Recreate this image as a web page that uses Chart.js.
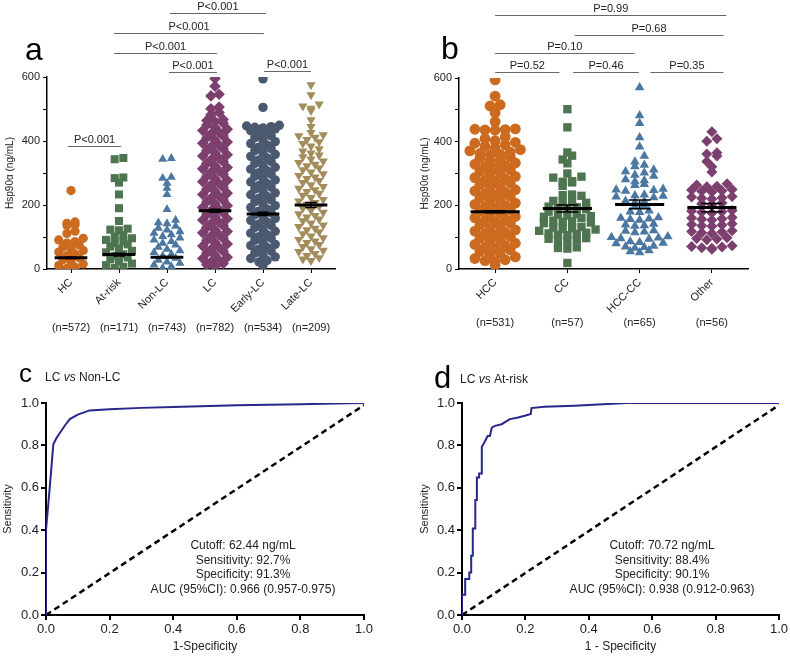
<!DOCTYPE html>
<html>
<head>
<meta charset="utf-8">
<script src="https://cdn.jsdelivr.net/npm/chart.js@4/dist/chart.umd.min.js"></script>
<style>
  body { margin: 0; background: #fff; width: 790px; height: 656px; position: relative; overflow: hidden; }
  canvas { position: absolute; }
</style>
</head>
<body>
<canvas id="pa" width="395" height="340" style="left:0;top:0"></canvas>
<canvas id="pb" width="390" height="340" style="left:400px;top:0"></canvas>
<canvas id="pc" width="395" height="316" style="left:0;top:340px"></canvas>
<canvas id="pd" width="390" height="316" style="left:400px;top:340px"></canvas>
<script>
// ---- panel a: Hsp90a by group (ng/mL) ----
const groupsA = ['HC', 'At-risk', 'Non-LC', 'LC', 'Early-LC', 'Late-LC'];
const countsA = [572, 171, 743, 782, 534, 209];
const hc = [2, 6, 11, 16, 23, 29, 35, 42, 47, 53, 58, 63, 69, 75, 81, 86, 91, 96, 111, 118, 136, 138, 143, 147, 245];
const atRisk = [3, 7, 12, 17, 24, 30, 36, 41, 46, 52, 57, 63, 70, 77, 81, 86, 91, 96, 101, 106, 121, 123, 126, 150, 190, 233, 270, 284, 286, 343, 347];
const nonLC = [3, 8, 13, 18, 22, 28, 34, 41, 46, 52, 57, 62, 68, 75, 81, 86, 91, 97, 102, 107, 112, 117, 122, 128, 134,
  142, 145, 153, 186, 233, 253, 268, 284, 287, 343, 346];
const lc = [8, 13, 17, 22, 27, 33, 37, 43, 50, 56, 61, 67, 72, 78, 83, 90, 96, 102, 107, 113, 117, 123, 130, 136,
  142, 147, 153, 157, 163, 170, 176, 182, 186, 192, 198, 203, 210, 216, 221, 227, 233, 237, 243, 250, 256,
  262, 267, 273, 277, 283, 290, 296, 302, 307, 313, 317, 323, 330, 336, 341, 347, 353, 357, 363, 370, 376,
  382, 387, 393, 397, 403, 410, 416, 422, 427, 433, 437, 443, 450, 456, 461, 464, 467, 482, 489, 501, 506, 541, 546, 571, 595];
const earlyLC = [12, 22, 27, 33, 38, 43, 50, 56, 62, 67, 73, 77, 83, 90, 96, 101, 107, 112, 118, 123, 130, 136,
  141, 147, 152, 158, 163, 170, 176, 181, 187, 192, 198, 203, 210, 216, 221, 227, 232, 238, 243, 250, 256,
  261, 267, 272, 278, 283, 290, 296, 301, 307, 312, 318, 323, 330, 336, 341, 347, 352, 358, 363, 370, 376,
  381, 387, 392, 398, 403, 410, 416, 421, 427, 432, 438, 441, 443, 445, 447, 449, 505, 594];
const lateLC = [26, 31, 35, 42, 48, 54, 58, 63, 70, 76, 82, 87, 92, 97, 103, 110, 116, 122, 127, 132, 137, 143, 150, 156,
  162, 167, 172, 177, 183, 190, 196, 202, 207, 212, 217, 223, 230, 236, 242, 247, 252, 257, 263, 270, 276,
  282, 287, 292, 297, 303, 310, 316, 322, 327, 332, 337, 343, 350, 356, 362, 368, 375, 384, 392, 397,
  404, 411, 416, 419, 426, 445, 466, 495, 502, 509, 515, 544, 575];
const meansA = [35, 45, 37, 182, 172, 200];
const semA = [2, 4, 2, 5, 5, 8];

// ---- panel b: by tumour type ----
const groupsB = ['HCC', 'CC', 'HCC-CC', 'Other'];
const countsB = [531, 57, 65, 56];
const hcc = [12, 23, 26, 29, 33, 38, 45, 50, 55, 60, 65, 69, 73, 77, 81, 87, 92, 97, 102, 107, 111, 115, 119, 123,
  129, 134, 139, 144, 149, 153, 157, 161, 165, 171, 176, 181, 186, 191, 195, 199, 203, 207, 213, 218, 223, 228,
  233, 237, 241, 245, 249, 255, 260, 265, 270, 275, 279, 283, 287, 291, 297, 302, 307, 312, 317, 321, 325, 329, 333,
  338, 343, 348, 353, 358, 360, 363, 367, 371, 375, 380, 385, 390, 395, 398, 403, 410, 415,
  436, 437, 438, 439, 440, 463, 491, 512, 516, 543, 594];
const cc = [502, 445, 366, 356, 344, 332, 300, 290, 287, 276, 274, 272, 261, 234, 232, 230, 214, 212, 210, 208,
  196, 194, 192, 190, 188, 180, 172, 170, 168, 166, 164, 160, 152, 150, 148, 146, 144, 132, 130, 128, 126, 124,
  120, 114, 112, 110, 108, 106, 97, 95, 93, 91, 89, 68, 66, 64, 19];
const hccCC = [570, 482, 458, 413, 384, 355, 337, 327, 322, 312, 306, 302, 295, 292, 281, 278, 275, 266, 263, 251,
  249, 247, 245, 233, 231, 229, 227, 225, 214, 212, 210, 198, 196, 183, 180, 178, 162, 160, 158, 156,
  154, 141, 139, 137, 135, 121, 119, 117, 115, 102, 100, 98, 96, 94, 86, 84, 82, 80, 72, 70, 68, 66, 58, 55, 52];
const other = [431, 409, 401, 365, 361, 355, 338, 321, 305, 268, 264, 260, 258, 250, 248, 246, 244, 242, 228, 226,
  224, 222, 220, 207, 205, 203, 184, 182, 180, 178, 176, 162, 160, 158, 156, 154, 142, 140, 138, 136, 134,
  120, 118, 116, 114, 112, 98, 96, 94, 92, 73, 71, 69, 67, 65, 62];
const meansB = [180, 190, 203, 193];
const semB = [3, 11, 14, 13];

// ---- ROC curves (1-specificity, sensitivity) ----
const rocCx = [0, 0, 0.007, 0.0125, 0.023, 0.033, 0.044, 0.06, 0.075, 0.1, 0.137, 0.2, 0.3, 0.4, 0.6, 0.8, 0.95, 1];
const rocCy = [0, 0.4, 0.52, 0.614, 0.805, 0.835, 0.86, 0.895, 0.924, 0.945, 0.965, 0.97, 0.977, 0.981, 0.989, 0.994, 0.999, 1];
const rocDx = [0, 0, 0.01, 0.01, 0.023, 0.023, 0.029, 0.029, 0.034, 0.034, 0.042, 0.042, 0.047, 0.047, 0.054, 0.054, 0.0625, 0.0625,
  0.07, 0.081, 0.088, 0.094, 0.104, 0.125, 0.151, 0.177, 0.198, 0.217, 0.219, 0.26, 0.354, 0.52, 1];
const rocDy = [0, 0.095, 0.095, 0.17, 0.17, 0.2, 0.2, 0.28, 0.28, 0.408, 0.408, 0.543, 0.543, 0.648, 0.648, 0.667, 0.667, 0.794,
  0.813, 0.844, 0.844, 0.884, 0.892, 0.9, 0.924, 0.932, 0.94, 0.948, 0.976, 0.982, 0.987, 1, 1];
const statsC = ['Cutoff: 62.44 ng/mL', 'Sensitivity: 92.7%', 'Specificity: 91.3%', 'AUC (95%CI): 0.966 (0.957-0.975)'];
const statsD = ['Cutoff: 70.72 ng/mL', 'Sensitivity: 88.4%', 'Specificity: 90.1%', 'AUC (95%CI): 0.938 (0.912-0.963)'];

const FONT = '"Liberation Sans", Arial, sans-serif';
Chart.defaults.font.family = FONT;
Chart.defaults.color = '#222';

// scatter-dot layout: bin the values, spread each bin sideways from the centre out
function swarm(vals, idx, bin, dx) {
  const bins = {};
  vals.forEach(v => { const k = Math.floor(v / bin); (bins[k] = bins[k] || []).push(v); });
  const pts = [];
  Object.values(bins).forEach(g => {
    g.sort((a, b) => a - b);
    const n = g.length;
    const offs = g.map((_, j) => j - (n - 1) / 2);
    offs.sort((a, b) => Math.abs(a) - Math.abs(b) || a - b);
    g.forEach((v, j) => pts.push({ x: idx + offs[j] * dx, y: v }));
  });
  return pts;
}

function dotAnnot(cfg) {
  return {
    id: 'dotAnnot',
    afterDatasetsDraw(chart) {
      const { ctx, scales: { x, y } } = chart;
      ctx.save();
      ctx.strokeStyle = '#000';
      cfg.means.forEach((m, i) => {
        const ym = y.getPixelForValue(m);
        ctx.lineWidth = 3;
        ctx.beginPath();
        ctx.moveTo(x.getPixelForValue(i - cfg.halfW), ym);
        ctx.lineTo(x.getPixelForValue(i + cfg.halfW), ym);
        ctx.stroke();
        const y1 = y.getPixelForValue(m + cfg.sem[i]), y2 = y.getPixelForValue(m - cfg.sem[i]);
        const xc = x.getPixelForValue(i), xl = x.getPixelForValue(i - cfg.capW), xr = x.getPixelForValue(i + cfg.capW);
        ctx.lineWidth = 1.5;
        ctx.beginPath();
        ctx.moveTo(xc, y1); ctx.lineTo(xc, y2);
        ctx.moveTo(xl, y1); ctx.lineTo(xr, y1);
        ctx.moveTo(xl, y2); ctx.lineTo(xr, y2);
        ctx.stroke();
      });
      ctx.restore();
    },
    afterDraw(chart) {
      const { ctx, scales: { x } } = chart;
      ctx.save();
      // significance brackets
      ctx.font = '11px ' + FONT;
      ctx.textAlign = 'center';
      ctx.textBaseline = 'alphabetic';
      cfg.brackets.forEach(([a, b, ly, txt]) => {
        const x1 = x.getPixelForValue(a), x2 = x.getPixelForValue(b);
        ctx.strokeStyle = '#666';
        ctx.lineWidth = 1;
        ctx.beginPath(); ctx.moveTo(x1, ly + 0.5); ctx.lineTo(x2, ly + 0.5); ctx.stroke();
        ctx.fillStyle = '#222';
        ctx.fillText(txt, (x1 + x2) / 2, ly - 3);
      });
      // group sizes
      ctx.textBaseline = 'middle';
      cfg.counts.forEach((n, i) => ctx.fillText('(n=' + n + ')', x.getPixelForValue(i), cfg.nY));
      // panel letter
      ctx.font = '32px ' + FONT;
      ctx.textAlign = 'left';
      ctx.textBaseline = 'alphabetic';
      ctx.fillStyle = '#000';
      ctx.fillText(cfg.letter, cfg.lx, cfg.ly);
      ctx.restore();
    }
  };
}

function dotChart(id, groups, series, colors, shapes, radii, dx, bin, yW, titlePad, padding, annot) {
  return new Chart(document.getElementById(id), {
    type: 'scatter',
    data: {
      datasets: series.map((vals, i) => ({
        data: swarm(vals, i, bin, dx[i]),
        pointStyle: shapes[i] === 'triangleDown' ? 'triangle' : shapes[i],
        pointRotation: shapes[i] === 'triangleDown' ? 180 : 0,
        pointRadius: radii[i],
        pointBackgroundColor: colors[i],
        pointBorderColor: colors[i],
        pointBorderWidth: 0
      }))
    },
    options: {
      responsive: false,
      animation: false,
      layout: { padding: padding, autoPadding: false },
      plugins: { legend: { display: false }, tooltip: { enabled: false } },
      scales: {
        x: {
          type: 'linear', min: -0.5, max: groups.length - 0.5,
          afterBuildTicks: s => { s.ticks = groups.map((_, i) => ({ value: i })); },
          afterFit: s => { s.height = 50; },
          border: { color: '#000', width: 1.5 },
          grid: { drawOnChartArea: false, tickLength: 4, color: '#000', lineWidth: 1 },
          ticks: { autoSkip: false, minRotation: 45, maxRotation: 45, padding: 3, color: '#222', font: { size: 11 },
            callback: v => groups[v] }
        },
        y: {
          min: 0, max: 600,
          afterFit: s => { s.width = yW; },
          border: { color: '#000', width: 1.5 },
          grid: { drawOnChartArea: false, tickLength: 4, color: '#000', lineWidth: 1 },
          ticks: { stepSize: 100, padding: 3, color: '#222', font: { size: 11 }, callback: v => (v % 200 === 0 ? v : '') },
          title: { display: true, text: 'Hsp90\u03b1 (ng/mL)', color: '#222', font: { size: 10 }, padding: { top: titlePad, bottom: 0 } }
        }
      }
    },
    plugins: [annot]
  });
}

dotChart('pa', groupsA, [hc, atRisk, nonLC, lc, earlyLC, lateLC],
  ['#cc6a1f', '#4e7550', '#4b77a1', '#7c3f6e', '#4a596f', '#a28d5b'],
  ['circle', 'rect', 'triangle', 'rectRot', 'circle', 'triangleDown'],
  [4.6, 5.7, 5.2, 5.8, 4.7, 5.3], [0.17, 0.18, 0.18, 0.17, 0.17, 0.17], 20, 47, 4,
  { left: 0, right: 60, top: 77, bottom: 21 },
  dotAnnot({
    letter: 'a', lx: 25, ly: 60, nY: 328, counts: countsA, means: meansA, sem: semA, halfW: 0.34, capW: 0.12,
    brackets: [[-0.06, 1.04, 146, 'P<0.001'], [2.04, 3.04, 72, 'P<0.001'], [4.02, 5.0, 71, 'P<0.001'],
      [0.9, 3.04, 53, 'P<0.001'], [0.9, 4.02, 33, 'P<0.001'], [2.06, 4.06, 13, 'P<0.001']]
  }));

dotChart('pb', groupsB, [hcc, cc, hccCC, other],
  ['#cc6a1f', '#4e7550', '#4b77a1', '#7c3f6e'],
  ['circle', 'rect', 'triangle', 'rectRot'],
  [5.4, 5.9, 5.5, 5.5], [0.14, 0.13, 0.13, 0.14], 21, 59, 19,
  { left: 0, right: 42, top: 78, bottom: 21 },
  dotAnnot({
    letter: 'b', lx: 41, ly: 59, nY: 323, counts: countsB, means: meansB, sem: semB, halfW: 0.34, capW: 0.15,
    brackets: [[0.0, 0.89, 72, 'P=0.52'], [1.08, 1.99, 72, 'P=0.46'], [2.15, 3.16, 72, 'P=0.35'],
      [0.0, 1.93, 53, 'P=0.10'], [1.1, 3.16, 35, 'P=0.68'], [0.0, 3.2, 15, 'P=0.99']]
  }));

function rocAnnot(cfg) {
  return {
    id: 'rocAnnot',
    afterDraw(chart) {
      const ctx = chart.ctx;
      ctx.save();
      ctx.fillStyle = '#000';
      ctx.textBaseline = 'alphabetic';
      ctx.textAlign = 'left';
      ctx.font = cfg.letterSize + 'px ' + FONT;
      ctx.fillText(cfg.letter, cfg.lx, cfg.ly);
      // "LC vs ..." subtitle with italic vs
      let tx = cfg.sx;
      ctx.fillStyle = '#222';
      [['LC ', ''], ['vs', 'italic '], [' ' + cfg.other, '']].forEach(([t, st]) => {
        ctx.font = st + '12px ' + FONT;
        ctx.fillText(t, tx, cfg.sy);
        tx += ctx.measureText(t).width;
      });
      ctx.font = '12px ' + FONT;
      ctx.textAlign = 'center';
      cfg.stats.forEach((t, i) => ctx.fillText(t, cfg.cx, 209 + i * 14.5));
      ctx.restore();
    }
  };
}

function rocChart(id, xs, ys, yW, titlePad, padRight, xTitle, annot) {
  return new Chart(document.getElementById(id), {
    type: 'scatter',
    data: {
      datasets: [
        { data: xs.map((v, i) => ({ x: v, y: ys[i] })), showLine: true, borderColor: '#28278a', borderWidth: 2, pointRadius: 0, tension: 0 },
        { data: [{ x: 0, y: 0 }, { x: 1, y: 0.99 }], showLine: true, borderColor: '#000', borderWidth: 2.5, borderDash: [6, 4], pointRadius: 0 }
      ]
    },
    options: {
      responsive: false,
      animation: false,
      layout: { padding: { left: 0, right: padRight, top: 63, bottom: 0 }, autoPadding: false },
      plugins: { legend: { display: false }, tooltip: { enabled: false } },
      scales: {
        x: {
          min: 0, max: 1,
          afterFit: s => { s.height = 41; },
          border: { color: '#000', width: 2 },
          grid: { drawOnChartArea: false, tickLength: 5, color: '#000', lineWidth: 2 },
          ticks: { stepSize: 0.2, padding: 2, color: '#222', font: { size: 13 }, maxRotation: 0, callback: v => v.toFixed(1) },
          title: { display: true, text: xTitle, color: '#222', font: { size: 12 }, padding: { top: 0, bottom: 2 } }
        },
        y: {
          min: 0, max: 1,
          afterFit: s => { s.width = yW; },
          border: { color: '#000', width: 2 },
          grid: { drawOnChartArea: false, tickLength: 5, color: '#000', lineWidth: 2 },
          ticks: { stepSize: 0.2, padding: 2, color: '#222', font: { size: 13 }, callback: v => v.toFixed(1) },
          title: { display: true, text: 'Sensitivity', color: '#222', font: { size: 11 }, padding: { top: titlePad, bottom: 0 } }
        }
      }
    },
    plugins: [annot]
  });
}

rocChart('pc', rocCx, rocCy, 46, 1.5, 31, '1-Specificity',
  rocAnnot({ letter: 'c', letterSize: 26, lx: 19, ly: 42, sx: 45, sy: 41, other: 'Non-LC', stats: statsC, cx: 243 }));
rocChart('pd', rocDx, rocDy, 62, 18, 11, '1 - Specificity',
  rocAnnot({ letter: 'd', letterSize: 31, lx: 34, ly: 48, sx: 60, sy: 43, other: 'At-risk', stats: statsD, cx: 262 }));
</script>
</body>
</html>
